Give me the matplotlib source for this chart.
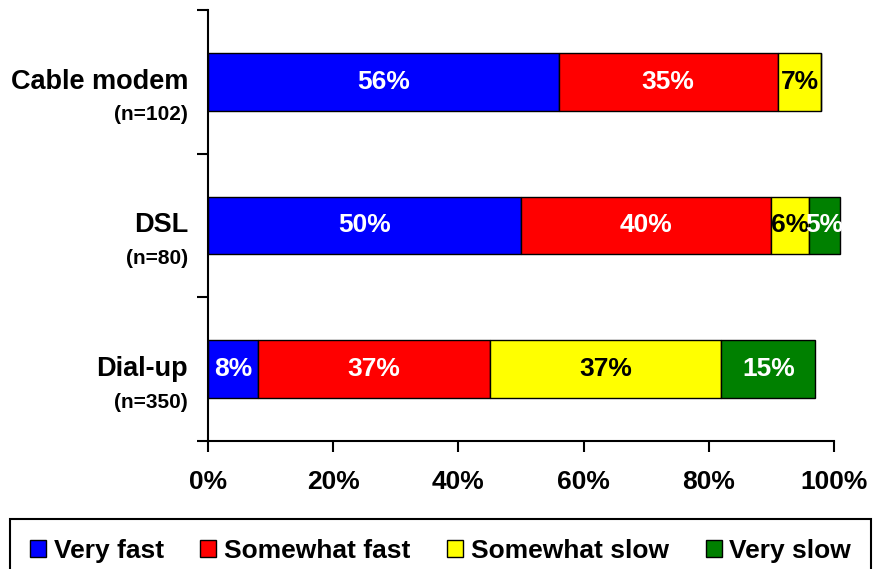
import numpy as np
import matplotlib.pyplot as plt

categories = ['Cable modem', 'DSL', 'Dial-up']
sample_sizes = ['(n=102)', '(n=80)', '(n=350)']
series_names = ['Very fast', 'Somewhat fast', 'Somewhat slow', 'Very slow']
very_fast = [56, 50, 8]
somewhat_fast = [35, 40, 37]
somewhat_slow = [7, 6, 37]
very_slow = [0, 5, 15]
x_ticks = [0, 20, 40, 60, 80, 100]

colors = ['#0000ff', '#ff0000', '#ffff00', '#008000']
text_colors = ['white', 'white', 'black', 'white']

plt.rcParams['font.family'] = ['Liberation Sans', 'DejaVu Sans']

fig = plt.figure(figsize=(8.75, 5.69), dpi=100)
ax = fig.add_axes([208 / 875, 1 - 441 / 569, 626 / 875, 431 / 569])

y = np.arange(len(categories))
left = np.zeros(len(categories))
for values, name, color, tcolor in zip([very_fast, somewhat_fast, somewhat_slow, very_slow],
                                       series_names, colors, text_colors):
    values = np.array(values, dtype=float)
    bars = ax.barh(y, values, left=left, height=0.4, color=color, edgecolor='black',
                   linewidth=1, label=name, clip_on=False)
    for bar, v, l in zip(bars, values, left):
        if v <= 0:
            continue
        t = ax.text(l + v / 2, bar.get_y() + bar.get_height() / 2, f'{int(v)}%',
                    ha='center', va='center', color=tcolor, fontsize=19,
                    fontweight='bold', clip_on=False)
        t.set_clip_path(bar)
    left += values

ax.set_xlim(0, 100)
ax.set_ylim(2.5, -0.5)
ax.set_xticks(x_ticks)
ax.set_xticklabels([f'{v}%' for v in x_ticks], fontsize=19, fontweight='bold')
ax.set_yticks([-0.5, 0.5, 1.5, 2.5])
ax.set_yticklabels([])
ax.tick_params(axis='both', direction='out', length=8, width=1.5, colors='black')
ax.tick_params(axis='x', pad=13)
for side in ['top', 'right']:
    ax.spines[side].set_visible(False)
for side in ['left', 'bottom']:
    ax.spines[side].set_linewidth(1.5)

for i, (cat, n) in enumerate(zip(categories, sample_sizes)):
    ax.text(-0.032, i, cat, transform=ax.get_yaxis_transform(), ha='right', va='center',
            fontsize=19.5, fontweight='bold')
    ax.text(-0.032, i + 0.23, n, transform=ax.get_yaxis_transform(), ha='right', va='center',
            fontsize=15, fontweight='bold')

handles, labels = ax.get_legend_handles_labels()
leg = fig.legend(handles, labels, ncol=4, loc='upper left',
                 bbox_to_anchor=(10 / 875, -10 / 569, 861 / 875, 60 / 569),
                 mode='expand', fancybox=False, edgecolor='black', borderaxespad=0,
                 prop={'family': ['Liberation Sans Narrow', 'Liberation Sans'],
                       'weight': 'bold', 'size': 19},
                 handlelength=0.6, handleheight=0.6, handletextpad=0.3,
                 borderpad=0.75, framealpha=1)
leg.get_frame().set_linewidth(1.5)

fig.savefig('out.png', dpi=100)
